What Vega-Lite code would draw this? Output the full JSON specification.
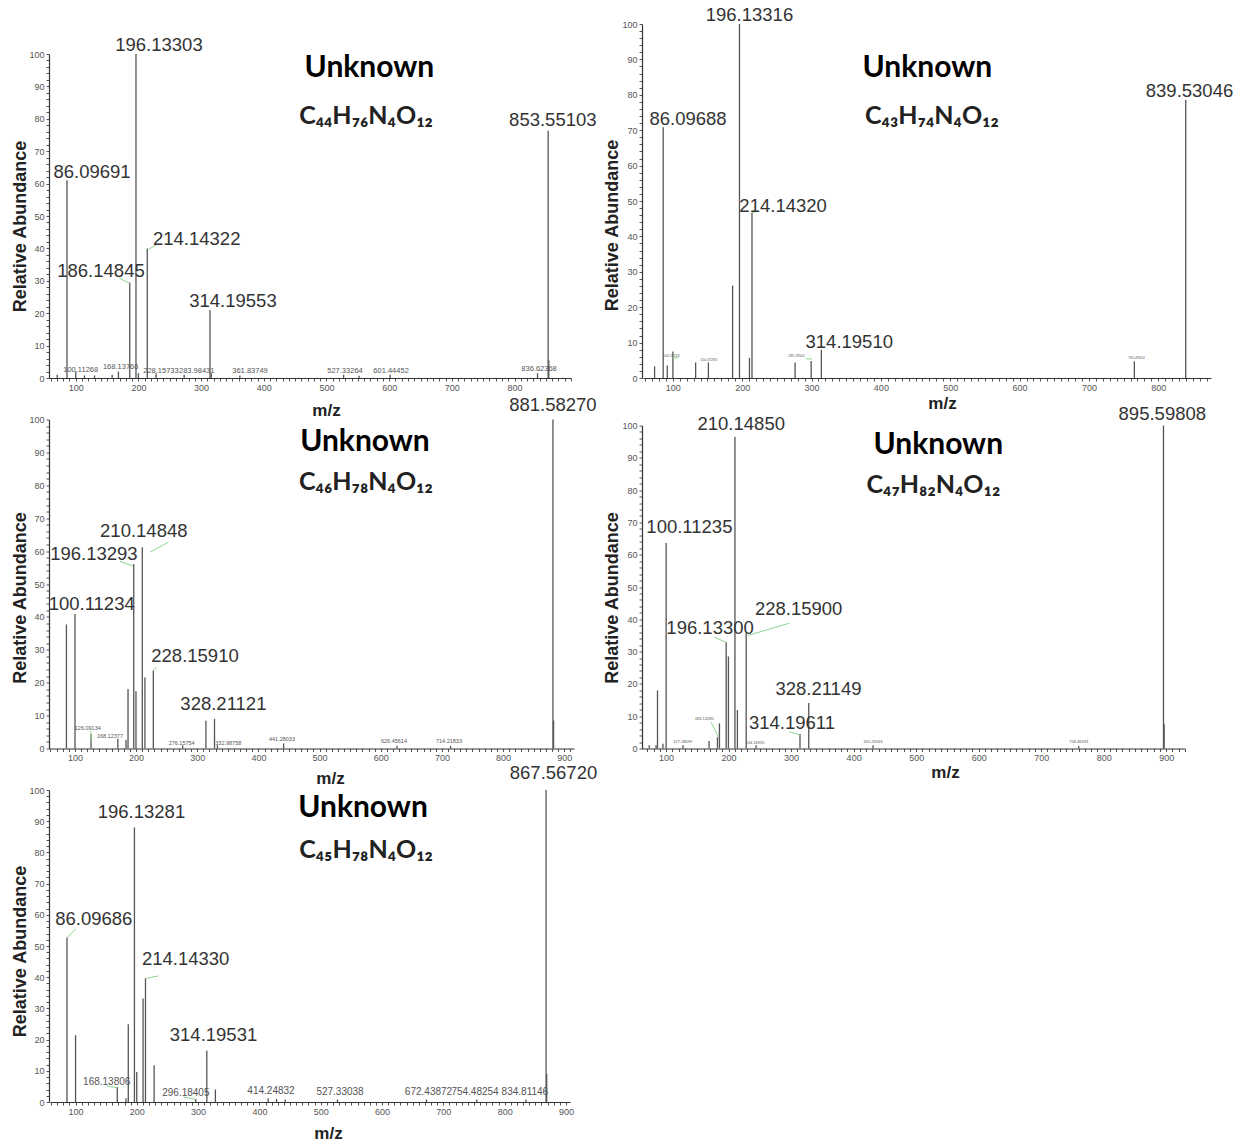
{
"$schema": "https://vega.github.io/schema/vega-lite/v6.json",
"padding": {"left": 11, "top": 5, "right": 0, "bottom": 0},
"background": "white",
"config": {
 "view": {"stroke": null},
 "axis": {"grid": false, "domainColor": "#333", "domainWidth": 1.2, "tickColor": "#555", "tickSize": 3, "labelColor": "#555", "labelFont": "Liberation Sans", "labelFontSize": 9, "labelPadding": 2, "titleFont": "Liberation Sans", "titleFontWeight": "bold", "titleColor": "#222", "labelOverlap": false, "labelFlush": false},
 "text": {"font": "Liberation Sans"}
},
"datasets": {
 "peaks": [
  {"p":1,"mz":70.5,"ab":1},{"p":1,"mz":86.09691,"ab":61},{"p":1,"mz":100.11268,"ab":2},{"p":1,"mz":114,"ab":0.8},{"p":1,"mz":130,"ab":0.8},{"p":1,"mz":158.1,"ab":1},{"p":1,"mz":168.13766,"ab":2},{"p":1,"mz":186.14845,"ab":29.5},{"p":1,"mz":196.13303,"ab":100},{"p":1,"mz":200,"ab":1.5},{"p":1,"mz":214.14322,"ab":40},{"p":1,"mz":228.15733,"ab":1.5},{"p":1,"mz":272.98431,"ab":1},{"p":1,"mz":314.19553,"ab":21},{"p":1,"mz":316.2,"ab":1.5},{"p":1,"mz":361.83749,"ab":0.8},{"p":1,"mz":527.33264,"ab":1},{"p":1,"mz":552,"ab":0.7},{"p":1,"mz":601.44452,"ab":1},{"p":1,"mz":836.62368,"ab":1.5},{"p":1,"mz":853.55103,"ab":76.3},{"p":1,"mz":854.55,"ab":5.5},
  {"p":2,"mz":73.7,"ab":3.3},{"p":2,"mz":86.09688,"ab":70.8},{"p":2,"mz":92,"ab":3.5},{"p":2,"mz":100.11243,"ab":7.5},{"p":2,"mz":132.9,"ab":4.4},{"p":2,"mz":151.3,"ab":4.4},{"p":2,"mz":186.2,"ab":26.1},{"p":2,"mz":196.13316,"ab":100},{"p":2,"mz":210.5,"ab":5.7},{"p":2,"mz":214.1432,"ab":46.7},{"p":2,"mz":276.3,"ab":4.4},{"p":2,"mz":299.5,"ab":4.8},{"p":2,"mz":314.1951,"ab":8},{"p":2,"mz":765.5,"ab":4.7},{"p":2,"mz":839.53046,"ab":78.5},
  {"p":3,"mz":86.1,"ab":37.7},{"p":3,"mz":100.11234,"ab":40.9},{"p":3,"mz":126.3,"ab":4.4},{"p":3,"mz":170.15,"ab":3},{"p":3,"mz":183.5,"ab":2.6},{"p":3,"mz":186.8,"ab":18.1},{"p":3,"mz":196.13293,"ab":56.1},{"p":3,"mz":199.8,"ab":17.4},{"p":3,"mz":210.14848,"ab":61.2},{"p":3,"mz":214.5,"ab":21.6},{"p":3,"mz":228.1591,"ab":23.7},{"p":3,"mz":276.16,"ab":1},{"p":3,"mz":314.2,"ab":8.4},{"p":3,"mz":328.21121,"ab":9},{"p":3,"mz":333,"ab":1},{"p":3,"mz":441.28,"ab":1.5},{"p":3,"mz":626.46,"ab":0.8},{"p":3,"mz":714.22,"ab":0.8},{"p":3,"mz":881.5827,"ab":100},{"p":3,"mz":882.58,"ab":8.5},
  {"p":4,"mz":73,"ab":1},{"p":4,"mz":84,"ab":1},{"p":4,"mz":86.3,"ab":18},{"p":4,"mz":95,"ab":1.5},{"p":4,"mz":100.11235,"ab":63.6},{"p":4,"mz":127,"ab":1},{"p":4,"mz":168.8,"ab":2.3},{"p":4,"mz":182.2,"ab":3.5},{"p":4,"mz":185.4,"ab":7.8},{"p":4,"mz":196.133,"ab":32.9},{"p":4,"mz":199.7,"ab":28.5},{"p":4,"mz":210.1485,"ab":96.5},{"p":4,"mz":214.1,"ab":11.9},{"p":4,"mz":228.159,"ab":35.9},{"p":4,"mz":244,"ab":1},{"p":4,"mz":314.19611,"ab":4.5},{"p":4,"mz":328.21149,"ab":14.1},{"p":4,"mz":431,"ab":1},{"p":4,"mz":760,"ab":0.8},{"p":4,"mz":895.59808,"ab":100},{"p":4,"mz":896.6,"ab":7.5},
  {"p":5,"mz":86.09686,"ab":52.7},{"p":5,"mz":100.11,"ab":21.4},{"p":5,"mz":168.13806,"ab":4.8},{"p":5,"mz":182.3,"ab":1.2},{"p":5,"mz":186.1,"ab":24.9},{"p":5,"mz":196.13281,"ab":88},{"p":5,"mz":199.9,"ab":9.6},{"p":5,"mz":210.2,"ab":33.2},{"p":5,"mz":214.1433,"ab":39.6},{"p":5,"mz":228.2,"ab":11.8},{"p":5,"mz":296.18405,"ab":1},{"p":5,"mz":314.19531,"ab":16.4},{"p":5,"mz":328.2,"ab":4},{"p":5,"mz":414.24832,"ab":1.2},{"p":5,"mz":428,"ab":1},{"p":5,"mz":442,"ab":0.8},{"p":5,"mz":527.33038,"ab":0.8},{"p":5,"mz":672.43872,"ab":0.8},{"p":5,"mz":754.48254,"ab":0.8},{"p":5,"mz":834.81146,"ab":0.8},{"p":5,"mz":867.5672,"ab":100},{"p":5,"mz":868.57,"ab":9}
 ],
 "labels": [
  {"p":1,"t":"86.09691","mz":126,"ab":63.7},{"p":1,"t":"196.13303","mz":232.8,"ab":102.8},{"p":1,"t":"186.14845","mz":140.3,"ab":33.1},{"p":1,"t":"214.14322","mz":293,"ab":42.8},{"p":1,"t":"314.19553","mz":350.8,"ab":23.9},{"p":1,"t":"853.55103","mz":861,"ab":79.6},
  {"p":2,"t":"86.09688","mz":122,"ab":73.3},{"p":2,"t":"196.13316","mz":210.5,"ab":102.6},{"p":2,"t":"214.14320","mz":259,"ab":48.6},{"p":2,"t":"314.19510","mz":354.4,"ab":10.2},{"p":2,"t":"839.53046","mz":845,"ab":81.2},
  {"p":3,"t":"100.11234","mz":127.4,"ab":44},{"p":3,"t":"196.13293","mz":131,"ab":59.2},{"p":3,"t":"210.14848","mz":212.6,"ab":66.1},{"p":3,"t":"228.15910","mz":296.3,"ab":28.2},{"p":3,"t":"328.21121","mz":342.7,"ab":13.6},{"p":3,"t":"881.58270","mz":881.5,"ab":104.4},
  {"p":4,"t":"100.11235","mz":137.3,"ab":68.5},{"p":4,"t":"210.14850","mz":220.2,"ab":100.6},{"p":4,"t":"196.13300","mz":170.4,"ab":37.3},{"p":4,"t":"228.15900","mz":312,"ab":43.1},{"p":4,"t":"314.19611","mz":301.4,"ab":7.8},{"p":4,"t":"328.21149","mz":343.7,"ab":18.3},{"p":4,"t":"895.59808","mz":893.7,"ab":103.7},
  {"p":5,"t":"86.09686","mz":129.8,"ab":58.8},{"p":5,"t":"196.13281","mz":207.6,"ab":92.9},{"p":5,"t":"214.14330","mz":279.7,"ab":45.7},{"p":5,"t":"314.19531","mz":325.1,"ab":21.4},{"p":5,"t":"867.56720","mz":879.7,"ab":105.5}
 ],
 "small": [
  {"p":1,"t":"100.11268","mz":108,"ab":2.5},{"p":1,"t":"168.13766","mz":171.7,"ab":3.5},{"p":1,"t":"228.15733","mz":236,"ab":2.3},{"p":1,"t":"283.98431","mz":293,"ab":2.3},{"p":1,"t":"361.83749","mz":378,"ab":2.3},{"p":1,"t":"527.33264","mz":529.5,"ab":2.3},{"p":1,"t":"601.44452","mz":603,"ab":2.3},{"p":1,"t":"836.62368","mz":839,"ab":2.7},
  {"p":2,"t":"100.11243","mz":97.7,"ab":6.3},{"p":2,"t":"150.07283","mz":151.6,"ab":5.2},{"p":2,"t":"285.18502","mz":278.3,"ab":6.1},{"p":2,"t":"765.49414","mz":768.6,"ab":5.7},
  {"p":3,"t":"126.09134","mz":121,"ab":6.1},{"p":3,"t":"168.12377","mz":157.3,"ab":3.9},{"p":3,"t":"276.15754","mz":274.5,"ab":1.8},{"p":3,"t":"332.98758","mz":350.7,"ab":1.6},{"p":3,"t":"441.28033","mz":438.5,"ab":2.8},{"p":3,"t":"626.45614","mz":621.6,"ab":2.4},{"p":3,"t":"714.21833","mz":711.6,"ab":2.4},
  {"p":4,"t":"127.08599","mz":126.8,"ab":1.9},{"p":4,"t":"183.13280","mz":161,"ab":9.1},{"p":4,"t":"244.16935","mz":242.3,"ab":1.6},{"p":4,"t":"431.26563","mz":431,"ab":1.9},{"p":4,"t":"758.46333","mz":760,"ab":1.9},
  {"p":5,"t":"168.13806","mz":150.9,"ab":6.4},{"p":5,"t":"296.18405","mz":280,"ab":3},{"p":5,"t":"414.24832","mz":418.9,"ab":3.5},{"p":5,"t":"527.33038","mz":531.5,"ab":3.3},{"p":5,"t":"672.43872","mz":675.8,"ab":3.3},{"p":5,"t":"754.48254","mz":751.7,"ab":3.3},{"p":5,"t":"834.81146","mz":833,"ab":3.3}
 ],
 "leaders": [
  {"p":1,"mz":169.5,"ab":30.8,"mz2":186.1,"ab2":29.2},{"p":1,"mz":215.7,"ab":39.7,"mz2":228,"ab2":41},
  {"p":2,"mz":99.1,"ab":5.7,"mz2":108,"ab2":5.7},{"p":2,"mz":291.7,"ab":5.4,"mz2":300.5,"ab2":5.4},{"p":2,"mz":213.5,"ab":46.7,"mz2":219.4,"ab2":46.9},
  {"p":3,"mz":173.7,"ab":56.9,"mz2":195.4,"ab2":55.4},{"p":3,"mz":222.7,"ab":59.7,"mz2":252.7,"ab2":62.7},{"p":3,"mz":229.2,"ab":23.9,"mz2":233.5,"ab2":24.8},{"p":3,"mz":126.3,"ab":2.3,"mz2":126.3,"ab2":5.4},
  {"p":4,"mz":177.3,"ab":34.5,"mz2":195.5,"ab2":32.9},{"p":4,"mz":231,"ab":35,"mz2":297,"ab2":38.8},{"p":4,"mz":297,"ab":5.2,"mz2":313.8,"ab2":4.2},{"p":4,"mz":172,"ab":8.1,"mz2":184.5,"ab2":3.3},
  {"p":5,"mz":86.6,"ab":52.7,"mz2":100.8,"ab2":55.6},{"p":5,"mz":215,"ab":39.6,"mz2":234.9,"ab2":40.4},{"p":5,"mz":150.8,"ab":5.1,"mz2":168.1,"ab2":4.6},{"p":5,"mz":275.9,"ab":1.6,"mz2":295,"ab2":0.9}
 ],
 "heads": [
  {"p":1,"k":"u","t":"Unknown","mz":568.5,"ab":95.7},{"p":1,"k":"f","t":"C₄₄H₇₆N₄O₁₂","mz":563,"ab":80.9},
  {"p":2,"k":"u","t":"Unknown","mz":467,"ab":87.5},{"p":2,"k":"f","t":"C₄₃H₇₄N₄O₁₂","mz":473.6,"ab":74.1},
  {"p":3,"k":"u","t":"Unknown","mz":574.2,"ab":93.1},{"p":3,"k":"f","t":"C₄₆H₇₈N₄O₁₂","mz":575.8,"ab":80.9},
  {"p":4,"k":"u","t":"Unknown","mz":535.4,"ab":94.1},{"p":4,"k":"f","t":"C₄₇H₈₂N₄O₁₂","mz":527.6,"ab":81.7},
  {"p":5,"k":"u","t":"Unknown","mz":569,"ab":94.1},{"p":5,"k":"f","t":"C₄₅H₇₈N₄O₁₂","mz":574,"ab":80.8}
 ]
},
"columns": 2,
"align": "each",
"bounds": "flush",
"spacing": {"row": 41.5, "column": 0},
"concat": [
 {
  "width": 593, "height": 354,
  "encoding": {
   "x": {"field": "mz", "type": "quantitative", "scale": {"domain": [57.4, 890], "range": [0, 522], "nice": false, "zero": false}, "axis": {"title": "m/z", "tickCount": 85, "labelExpr": "datum.value % 100 == 0 ? datum.label : ''", "titleFontSize": 17, "titleX": 277, "titleY": 32, "titleBaseline": "middle"}},
   "y": {"field": "ab", "type": "quantitative", "scale": {"domain": [0, 100], "range": [354, 30], "nice": false}, "axis": {"title": "Relative Abundance", "tickCount": 50, "labelExpr": "datum.value % 10 == 0 ? datum.label : ''", "titleFontSize": 18, "titleX": -29, "titleY": 202, "titleBaseline": "middle", "titleAngle": -90}}
  },
  "layer": [
   {"data": {"name": "peaks"}, "transform": [{"filter": "datum.p == 1"}], "mark": {"type": "rule", "color": "#555", "strokeWidth": 1.3}, "encoding": {"y2": {"datum": 0}}},
   {"data": {"name": "leaders"}, "transform": [{"filter": "datum.p == 1"}], "mark": {"type": "rule", "color": "#8ed48e", "strokeWidth": 1}, "encoding": {"x2": {"field": "mz2"}, "y2": {"field": "ab2"}}},
   {"data": {"name": "labels"}, "transform": [{"filter": "datum.p == 1"}], "mark": {"type": "text", "fontSize": 18.5, "color": "#333"}, "encoding": {"text": {"field": "t"}}},
   {"data": {"name": "small"}, "transform": [{"filter": "datum.p == 1"}], "mark": {"type": "text", "fontSize": 7.5, "color": "#555"}, "encoding": {"text": {"field": "t"}}},
   {"data": {"name": "heads"}, "transform": [{"filter": "datum.p == 1 && datum.k == 'u'"}], "mark": {"type": "text", "font": "Lato", "fontWeight": "bold", "fontSize": 30, "color": "#000"}, "encoding": {"text": {"field": "t"}}},
   {"data": {"name": "heads"}, "transform": [{"filter": "datum.p == 1 && datum.k == 'f'"}], "mark": {"type": "text", "font": "Lato", "fontWeight": "bold", "fontSize": 25, "color": "#222"}, "encoding": {"text": {"field": "t"}}}
  ]
 },
 {
  "width": 569, "height": 354,
  "encoding": {
   "x": {"field": "mz", "type": "quantitative", "scale": {"domain": [57, 876], "range": [1, 569], "nice": false, "zero": false}, "axis": {"title": "m/z", "tickCount": 85, "labelExpr": "datum.value % 100 == 0 ? datum.label : ''", "titleFontSize": 17, "titleX": 300, "titleY": 25, "titleBaseline": "middle"}},
   "y": {"field": "ab", "type": "quantitative", "scale": {"domain": [0, 100], "range": [354, 0], "nice": false}, "axis": {"title": "Relative Abundance", "tickCount": 50, "labelExpr": "datum.value % 10 == 0 ? datum.label : ''", "titleFontSize": 18, "titleX": -30, "titleY": 201, "titleBaseline": "middle", "titleAngle": -90}}
  },
  "layer": [
   {"data": {"name": "peaks"}, "transform": [{"filter": "datum.p == 2"}], "mark": {"type": "rule", "color": "#555", "strokeWidth": 1.3}, "encoding": {"y2": {"datum": 0}}},
   {"data": {"name": "leaders"}, "transform": [{"filter": "datum.p == 2"}], "mark": {"type": "rule", "color": "#8ed48e", "strokeWidth": 1}, "encoding": {"x2": {"field": "mz2"}, "y2": {"field": "ab2"}}},
   {"data": {"name": "labels"}, "transform": [{"filter": "datum.p == 2"}], "mark": {"type": "text", "fontSize": 18.5, "color": "#333"}, "encoding": {"text": {"field": "t"}}},
   {"data": {"name": "small"}, "transform": [{"filter": "datum.p == 2"}], "mark": {"type": "text", "fontSize": 3.5, "color": "#555"}, "encoding": {"text": {"field": "t"}}},
   {"data": {"name": "heads"}, "transform": [{"filter": "datum.p == 2 && datum.k == 'u'"}], "mark": {"type": "text", "font": "Lato", "fontWeight": "bold", "fontSize": 30, "color": "#000"}, "encoding": {"text": {"field": "t"}}},
   {"data": {"name": "heads"}, "transform": [{"filter": "datum.p == 2 && datum.k == 'f'"}], "mark": {"type": "text", "font": "Lato", "fontWeight": "bold", "fontSize": 25, "color": "#222"}, "encoding": {"text": {"field": "t"}}}
  ]
 },
 {
  "width": 593, "height": 329,
  "encoding": {
   "x": {"field": "mz", "type": "quantitative", "scale": {"domain": [57.6, 916], "range": [0, 525], "nice": false, "zero": false}, "axis": {"title": "m/z", "tickCount": 85, "labelExpr": "datum.value % 100 == 0 ? datum.label : ''", "titleFontSize": 17, "titleX": 281, "titleY": 30, "titleBaseline": "middle"}},
   "y": {"field": "ab", "type": "quantitative", "scale": {"domain": [0, 100], "range": [329, 0], "nice": false}, "axis": {"title": "Relative Abundance", "tickCount": 50, "labelExpr": "datum.value % 10 == 0 ? datum.label : ''", "titleFontSize": 18, "titleX": -29, "titleY": 178, "titleBaseline": "middle", "titleAngle": -90}}
  },
  "layer": [
   {"data": {"name": "peaks"}, "transform": [{"filter": "datum.p == 3"}], "mark": {"type": "rule", "color": "#555", "strokeWidth": 1.3}, "encoding": {"y2": {"datum": 0}}},
   {"data": {"name": "leaders"}, "transform": [{"filter": "datum.p == 3"}], "mark": {"type": "rule", "color": "#8ed48e", "strokeWidth": 1}, "encoding": {"x2": {"field": "mz2"}, "y2": {"field": "ab2"}}},
   {"data": {"name": "labels"}, "transform": [{"filter": "datum.p == 3"}], "mark": {"type": "text", "fontSize": 18.5, "color": "#333"}, "encoding": {"text": {"field": "t"}}},
   {"data": {"name": "small"}, "transform": [{"filter": "datum.p == 3"}], "mark": {"type": "text", "fontSize": 5.5, "color": "#555"}, "encoding": {"text": {"field": "t"}}},
   {"data": {"name": "heads"}, "transform": [{"filter": "datum.p == 3 && datum.k == 'u'"}], "mark": {"type": "text", "font": "Lato", "fontWeight": "bold", "fontSize": 30, "color": "#000"}, "encoding": {"text": {"field": "t"}}},
   {"data": {"name": "heads"}, "transform": [{"filter": "datum.p == 3 && datum.k == 'f'"}], "mark": {"type": "text", "font": "Lato", "fontWeight": "bold", "fontSize": 25, "color": "#222"}, "encoding": {"text": {"field": "t"}}}
  ]
 },
 {
  "width": 544, "height": 329,
  "encoding": {
   "x": {"field": "mz", "type": "quantitative", "scale": {"domain": [61.5, 930], "range": [0, 543], "nice": false, "zero": false}, "axis": {"title": "m/z", "tickCount": 85, "labelExpr": "datum.value % 100 == 0 ? datum.label : ''", "titleFontSize": 17, "titleX": 303, "titleY": 24, "titleBaseline": "middle"}},
   "y": {"field": "ab", "type": "quantitative", "scale": {"domain": [0, 100], "range": [329, 6], "nice": false}, "axis": {"title": "Relative Abundance", "tickCount": 50, "labelExpr": "datum.value % 10 == 0 ? datum.label : ''", "titleFontSize": 18, "titleX": -30, "titleY": 178, "titleBaseline": "middle", "titleAngle": -90}}
  },
  "layer": [
   {"data": {"name": "peaks"}, "transform": [{"filter": "datum.p == 4"}], "mark": {"type": "rule", "color": "#555", "strokeWidth": 1.3}, "encoding": {"y2": {"datum": 0}}},
   {"data": {"name": "leaders"}, "transform": [{"filter": "datum.p == 4"}], "mark": {"type": "rule", "color": "#8ed48e", "strokeWidth": 1}, "encoding": {"x2": {"field": "mz2"}, "y2": {"field": "ab2"}}},
   {"data": {"name": "labels"}, "transform": [{"filter": "datum.p == 4"}], "mark": {"type": "text", "fontSize": 18.5, "color": "#333"}, "encoding": {"text": {"field": "t"}}},
   {"data": {"name": "small"}, "transform": [{"filter": "datum.p == 4"}], "mark": {"type": "text", "fontSize": 4, "color": "#555"}, "encoding": {"text": {"field": "t"}}},
   {"data": {"name": "heads"}, "transform": [{"filter": "datum.p == 4 && datum.k == 'u'"}], "mark": {"type": "text", "font": "Lato", "fontWeight": "bold", "fontSize": 30, "color": "#000"}, "encoding": {"text": {"field": "t"}}},
   {"data": {"name": "heads"}, "transform": [{"filter": "datum.p == 4 && datum.k == 'f'"}], "mark": {"type": "text", "font": "Lato", "fontWeight": "bold", "fontSize": 25, "color": "#222"}, "encoding": {"text": {"field": "t"}}}
  ]
 },
 {
  "width": 593, "height": 312,
  "encoding": {
   "x": {"field": "mz", "type": "quantitative", "scale": {"domain": [58.4, 906.6], "range": [1, 521], "nice": false, "zero": false}, "axis": {"title": "m/z", "tickCount": 85, "labelExpr": "datum.value % 100 == 0 ? datum.label : ''", "titleFontSize": 17, "titleX": 279, "titleY": 31, "titleBaseline": "middle"}},
   "y": {"field": "ab", "type": "quantitative", "scale": {"domain": [0, 100], "range": [312, 0], "nice": false}, "axis": {"title": "Relative Abundance", "tickCount": 50, "labelExpr": "datum.value % 10 == 0 ? datum.label : ''", "titleFontSize": 18, "titleX": -29, "titleY": 161, "titleBaseline": "middle", "titleAngle": -90}}
  },
  "layer": [
   {"data": {"name": "peaks"}, "transform": [{"filter": "datum.p == 5"}], "mark": {"type": "rule", "color": "#555", "strokeWidth": 1.3}, "encoding": {"y2": {"datum": 0}}},
   {"data": {"name": "leaders"}, "transform": [{"filter": "datum.p == 5"}], "mark": {"type": "rule", "color": "#8ed48e", "strokeWidth": 1}, "encoding": {"x2": {"field": "mz2"}, "y2": {"field": "ab2"}}},
   {"data": {"name": "labels"}, "transform": [{"filter": "datum.p == 5"}], "mark": {"type": "text", "fontSize": 18.5, "color": "#333"}, "encoding": {"text": {"field": "t"}}},
   {"data": {"name": "small"}, "transform": [{"filter": "datum.p == 5"}], "mark": {"type": "text", "fontSize": 10, "color": "#555"}, "encoding": {"text": {"field": "t"}}},
   {"data": {"name": "heads"}, "transform": [{"filter": "datum.p == 5 && datum.k == 'u'"}], "mark": {"type": "text", "font": "Lato", "fontWeight": "bold", "fontSize": 30, "color": "#000"}, "encoding": {"text": {"field": "t"}}},
   {"data": {"name": "heads"}, "transform": [{"filter": "datum.p == 5 && datum.k == 'f'"}], "mark": {"type": "text", "font": "Lato", "fontWeight": "bold", "fontSize": 25, "color": "#222"}, "encoding": {"text": {"field": "t"}}}
  ]
 }
]
}
